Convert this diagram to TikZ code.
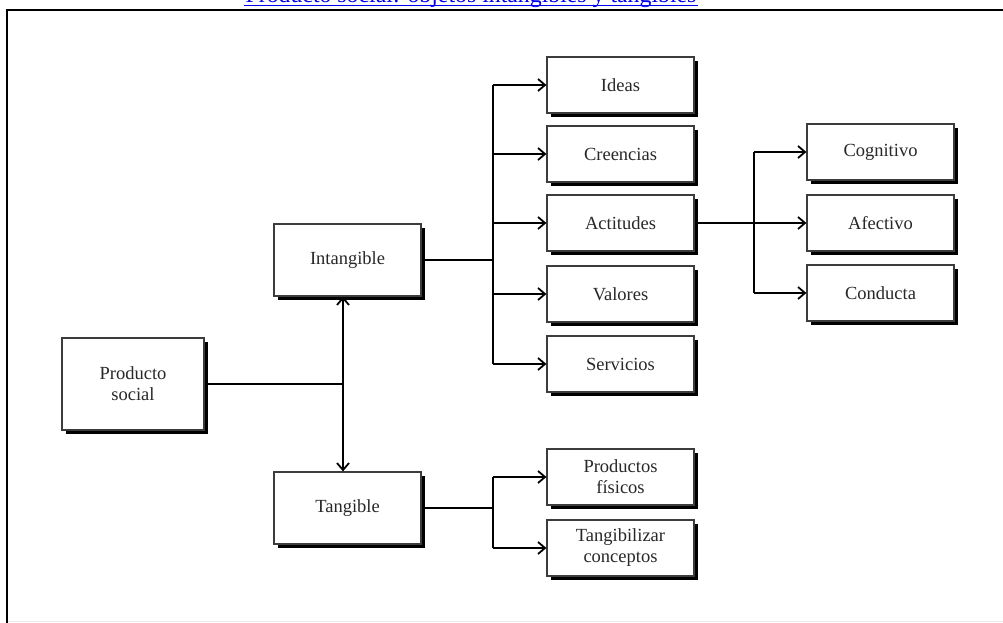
\documentclass[tikz,border=0pt]{standalone}
\usepackage{fontspec}
\setmainfont{Liberation Serif}
\usetikzlibrary{arrows.meta,shadows}
\definecolor{linkblue}{RGB}{0,0,238}
\definecolor{boxline}{RGB}{60,60,60}
\definecolor{txt}{RGB}{40,40,40}
\begin{document}
\begin{tikzpicture}[x=1pt,y=-1pt,
  cbox/.style={draw=boxline, line width=1.2pt, fill=white, inner sep=0pt,
    minimum width=147pt, minimum height=56pt, align=center, text=txt,
    font=\fontsize{18.5}{21}\selectfont,
    drop shadow={shadow xshift=3.5pt, shadow yshift=-4pt, fill=black, opacity=1}},
  conn/.style={line width=1.8pt, black},
  arr/.style={conn, -{Straight Barb[length=7pt, width=12pt, line width=1.8pt]}}]
\useasboundingbox (0,0) rectangle (1003,623);

% heading link, cut by the top edge
\begin{scope}
  \clip (0,0) rectangle (1003,623);
  \node[anchor=base, inner sep=0pt, text=linkblue,
        font=\fontsize{23.8}{26}\selectfont] (title) at (471,3)
        {Producto social: objetos intangibles y tangibles};
  \draw[linkblue, line width=1.3pt] (244,5.5) -- (698,5.5);
\end{scope}

% frame
\draw[line width=2pt, black] (7,623) -- (7,10) -- (1003,10);
\draw[line width=0.6pt, black!8] (8,621.5) -- (1003,621.5);

% boxes
\node[cbox, minimum width=142pt, minimum height=92pt] (prod) at (133,384) {Producto\\social};
\node[cbox, minimum height=72pt] (intang) at (347.5,260) {Intangible};
\node[cbox, minimum height=72pt] (tang) at (347.5,508) {Tangible};

\node[cbox] (ideas) at (620.5,85)  {Ideas};
\node[cbox] (cree)  at (620.5,154) {Creencias};
\node[cbox] (acti)  at (620.5,223) {Actitudes};
\node[cbox] (valo)  at (620.5,294) {Valores};
\node[cbox] (serv)  at (620.5,364) {Servicios};

\node[cbox] (cogn) at (880.5,152) {Cognitivo};
\node[cbox] (afec) at (880.5,223) {Afectivo};
\node[cbox] (cond) at (880.5,293) {Conducta};

\node[cbox] (fisi) at (620.5,477) {Productos\\físicos};
\node[cbox] (conc) at (620.5,548) {Tangibilizar\\conceptos};

% junction points
\coordinate (j0) at (343,384);
\coordinate (j1) at (493,260);
\coordinate (j2) at (754,223);
\coordinate (j3) at (493,508);

% producto social -> intangible / tangible
\draw[conn] (prod.east) -- (j0);
\draw[arr] (j0) -- (j0 |- intang.south);
\draw[arr] (j0) -- (j0 |- tang.north);

% intangible branch
\draw[conn] (intang.east) -- (j1);
\draw[conn] (j1 |- ideas.west) -- (j1 |- serv.west);
\foreach \b in {ideas,cree,acti,valo,serv}
  \draw[arr] (j1 |- \b.west) -- (\b.west);

% actitudes branch
\draw[conn] (acti.east) -- (j2);
\draw[conn] (j2 |- cogn.west) -- (j2 |- cond.west);
\foreach \b in {cogn,afec,cond}
  \draw[arr] (j2 |- \b.west) -- (\b.west);

% tangible branch
\draw[conn] (tang.east) -- (j3);
\draw[conn] (j3 |- fisi.west) -- (j3 |- conc.west);
\foreach \b in {fisi,conc}
  \draw[arr] (j3 |- \b.west) -- (\b.west);
\end{tikzpicture}
\end{document}
